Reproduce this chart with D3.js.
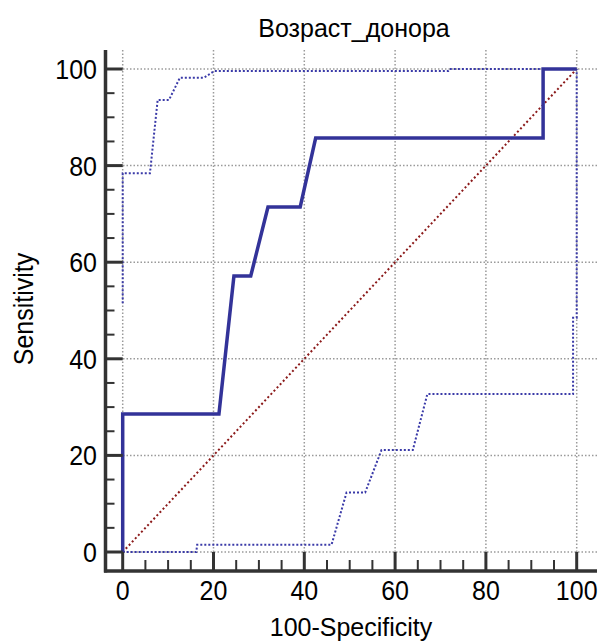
<!DOCTYPE html>
<html><head><meta charset="utf-8">
<script src="https://cdn.jsdelivr.net/npm/d3@7/dist/d3.min.js"></script>
<style>body{margin:0;background:#fff}svg{display:block}text{font-family:"Liberation Sans",Arial,sans-serif;fill:#000}</style>
</head><body>
<svg id="c" width="600" height="641"></svg>
<script>
const title = "Возраст_донора";
const xLabel = "100-Specificity";
const yLabel = "Sensitivity";
const majorTicks = [0, 20, 40, 60, 80, 100];
const minorTicks = [5,10,15,25,30,35,45,50,55,65,70,75,85,90,95];
// ROC curve
const rocX = [0, 0, 21.2, 24.5, 28.2, 32.0, 39.1, 42.5, 92.6, 92.6, 100];
const rocY = [0, 28.57, 28.57, 57.14, 57.14, 71.43, 71.43, 85.71, 85.71, 100, 100];
// upper confidence bound
const upX = [0, 0, 6.0, 7.7, 10.2, 12.6, 17.9, 20.2, 71.7, 72.0, 100];
const upY = [51.5, 78.4, 78.4, 93.6, 93.6, 98.2, 98.2, 99.6, 99.6, 100, 100];
// lower confidence bound
const loX = [0, 16.2, 16.4, 46.0, 49.3, 53.4, 57.0, 63.9, 67.1, 99.2, 99.2, 100, 100];
const loY = [0, 0, 1.5, 1.5, 12.3, 12.3, 21.1, 21.1, 32.7, 32.7, 48.5, 48.5, 100];
// reference diagonal
const diagX = [0, 100];
const diagY = [0, 100];

(function () {
const svg = d3.select("#c");
const x = d3.scaleLinear().domain([0, 100]).range([122.7, 576.7]);
const y = d3.scaleLinear().domain([0, 100]).range([552, 69]);
const pL = 105.5, pR = 597, pT = 50, pB = 571;

// grid
const g = svg.append("g");
g.selectAll(".vg").data(majorTicks).join("line")
  .attr("x1", d => x(d)).attr("x2", d => x(d)).attr("y1", pT).attr("y2", pB)
  .attr("stroke", "#9a9a9a").attr("stroke-width", 1.5).attr("stroke-dasharray", "1.5,2");
g.selectAll(".hg").data(majorTicks).join("line")
  .attr("y1", d => y(d)).attr("y2", d => y(d)).attr("x1", pL).attr("x2", pR)
  .attr("stroke", "#9a9a9a").attr("stroke-width", 1.5).attr("stroke-dasharray", "1.5,2");

const line = d3.line().x(d => x(d[0])).y(d => y(d[1]));
const zipPts = (a, b) => a.map((v, i) => [v, b[i]]);

svg.append("path").attr("d", line(zipPts(diagX, diagY))).attr("fill", "none")
  .attr("stroke", "#8b1a1a").attr("stroke-width", 2).attr("stroke-dasharray", "2,2.5");
svg.append("path").attr("d", line(zipPts(upX, upY))).attr("fill", "none")
  .attr("stroke", "#3a3aa8").attr("stroke-width", 2).attr("stroke-dasharray", "2,2");
svg.append("path").attr("d", line(zipPts(loX, loY))).attr("fill", "none")
  .attr("stroke", "#3a3aa8").attr("stroke-width", 2).attr("stroke-dasharray", "2,2");
svg.append("path").attr("d", line(zipPts(rocX, rocY))).attr("fill", "none")
  .attr("stroke", "#333399").attr("stroke-width", 3.5).attr("stroke-linejoin", "miter");

// axes
const ax = svg.append("g").attr("stroke", "#333").attr("fill", "none");
ax.append("line").attr("x1", pL).attr("x2", pL).attr("y1", pT).attr("y2", pB + 1.5).attr("stroke-width", 3.5);
ax.append("line").attr("x1", pL - 1.5).attr("x2", pR).attr("y1", pB).attr("y2", pB).attr("stroke-width", 3.5);
ax.selectAll(".xt").data(majorTicks).join("line")
  .attr("x1", d => x(d)).attr("x2", d => x(d)).attr("y1", pB).attr("y2", y(0)).attr("stroke-width", 3);
ax.selectAll(".xm").data(minorTicks).join("line")
  .attr("x1", d => x(d)).attr("x2", d => x(d)).attr("y1", pB).attr("y2", pB - 11).attr("stroke-width", 2);
ax.selectAll(".yt").data(majorTicks).join("line")
  .attr("y1", d => y(d)).attr("y2", d => y(d)).attr("x1", pL).attr("x2", x(0)).attr("stroke-width", 3);
ax.selectAll(".ym").data(minorTicks).join("line")
  .attr("y1", d => y(d)).attr("y2", d => y(d)).attr("x1", pL).attr("x2", pL + 9).attr("stroke-width", 2);

// tick labels
svg.selectAll(".xl").data(majorTicks).join("text")
  .attr("transform", d => `translate(${x(d)},600) scale(1,1.12)`)
  .attr("text-anchor", "middle").style("font-size", "25px").text(d => d);
svg.selectAll(".yl").data(majorTicks).join("text")
  .attr("transform", d => `translate(97,${y(d) + 10}) scale(1,1.12)`)
  .attr("text-anchor", "end").style("font-size", "25px").text(d => d);

svg.append("text").attr("transform", "translate(354,36.5)").attr("text-anchor", "middle")
  .style("font-size", "25px").text(title);
svg.append("text").attr("transform", "translate(351,636) scale(1,1.05)").attr("text-anchor", "middle")
  .style("font-size", "25px").text(xLabel);
svg.append("text").attr("transform", "translate(33,309) rotate(-90) scale(1,1.1)").attr("text-anchor", "middle")
  .style("font-size", "25px").text(yLabel);
})();
</script>
</body></html>
